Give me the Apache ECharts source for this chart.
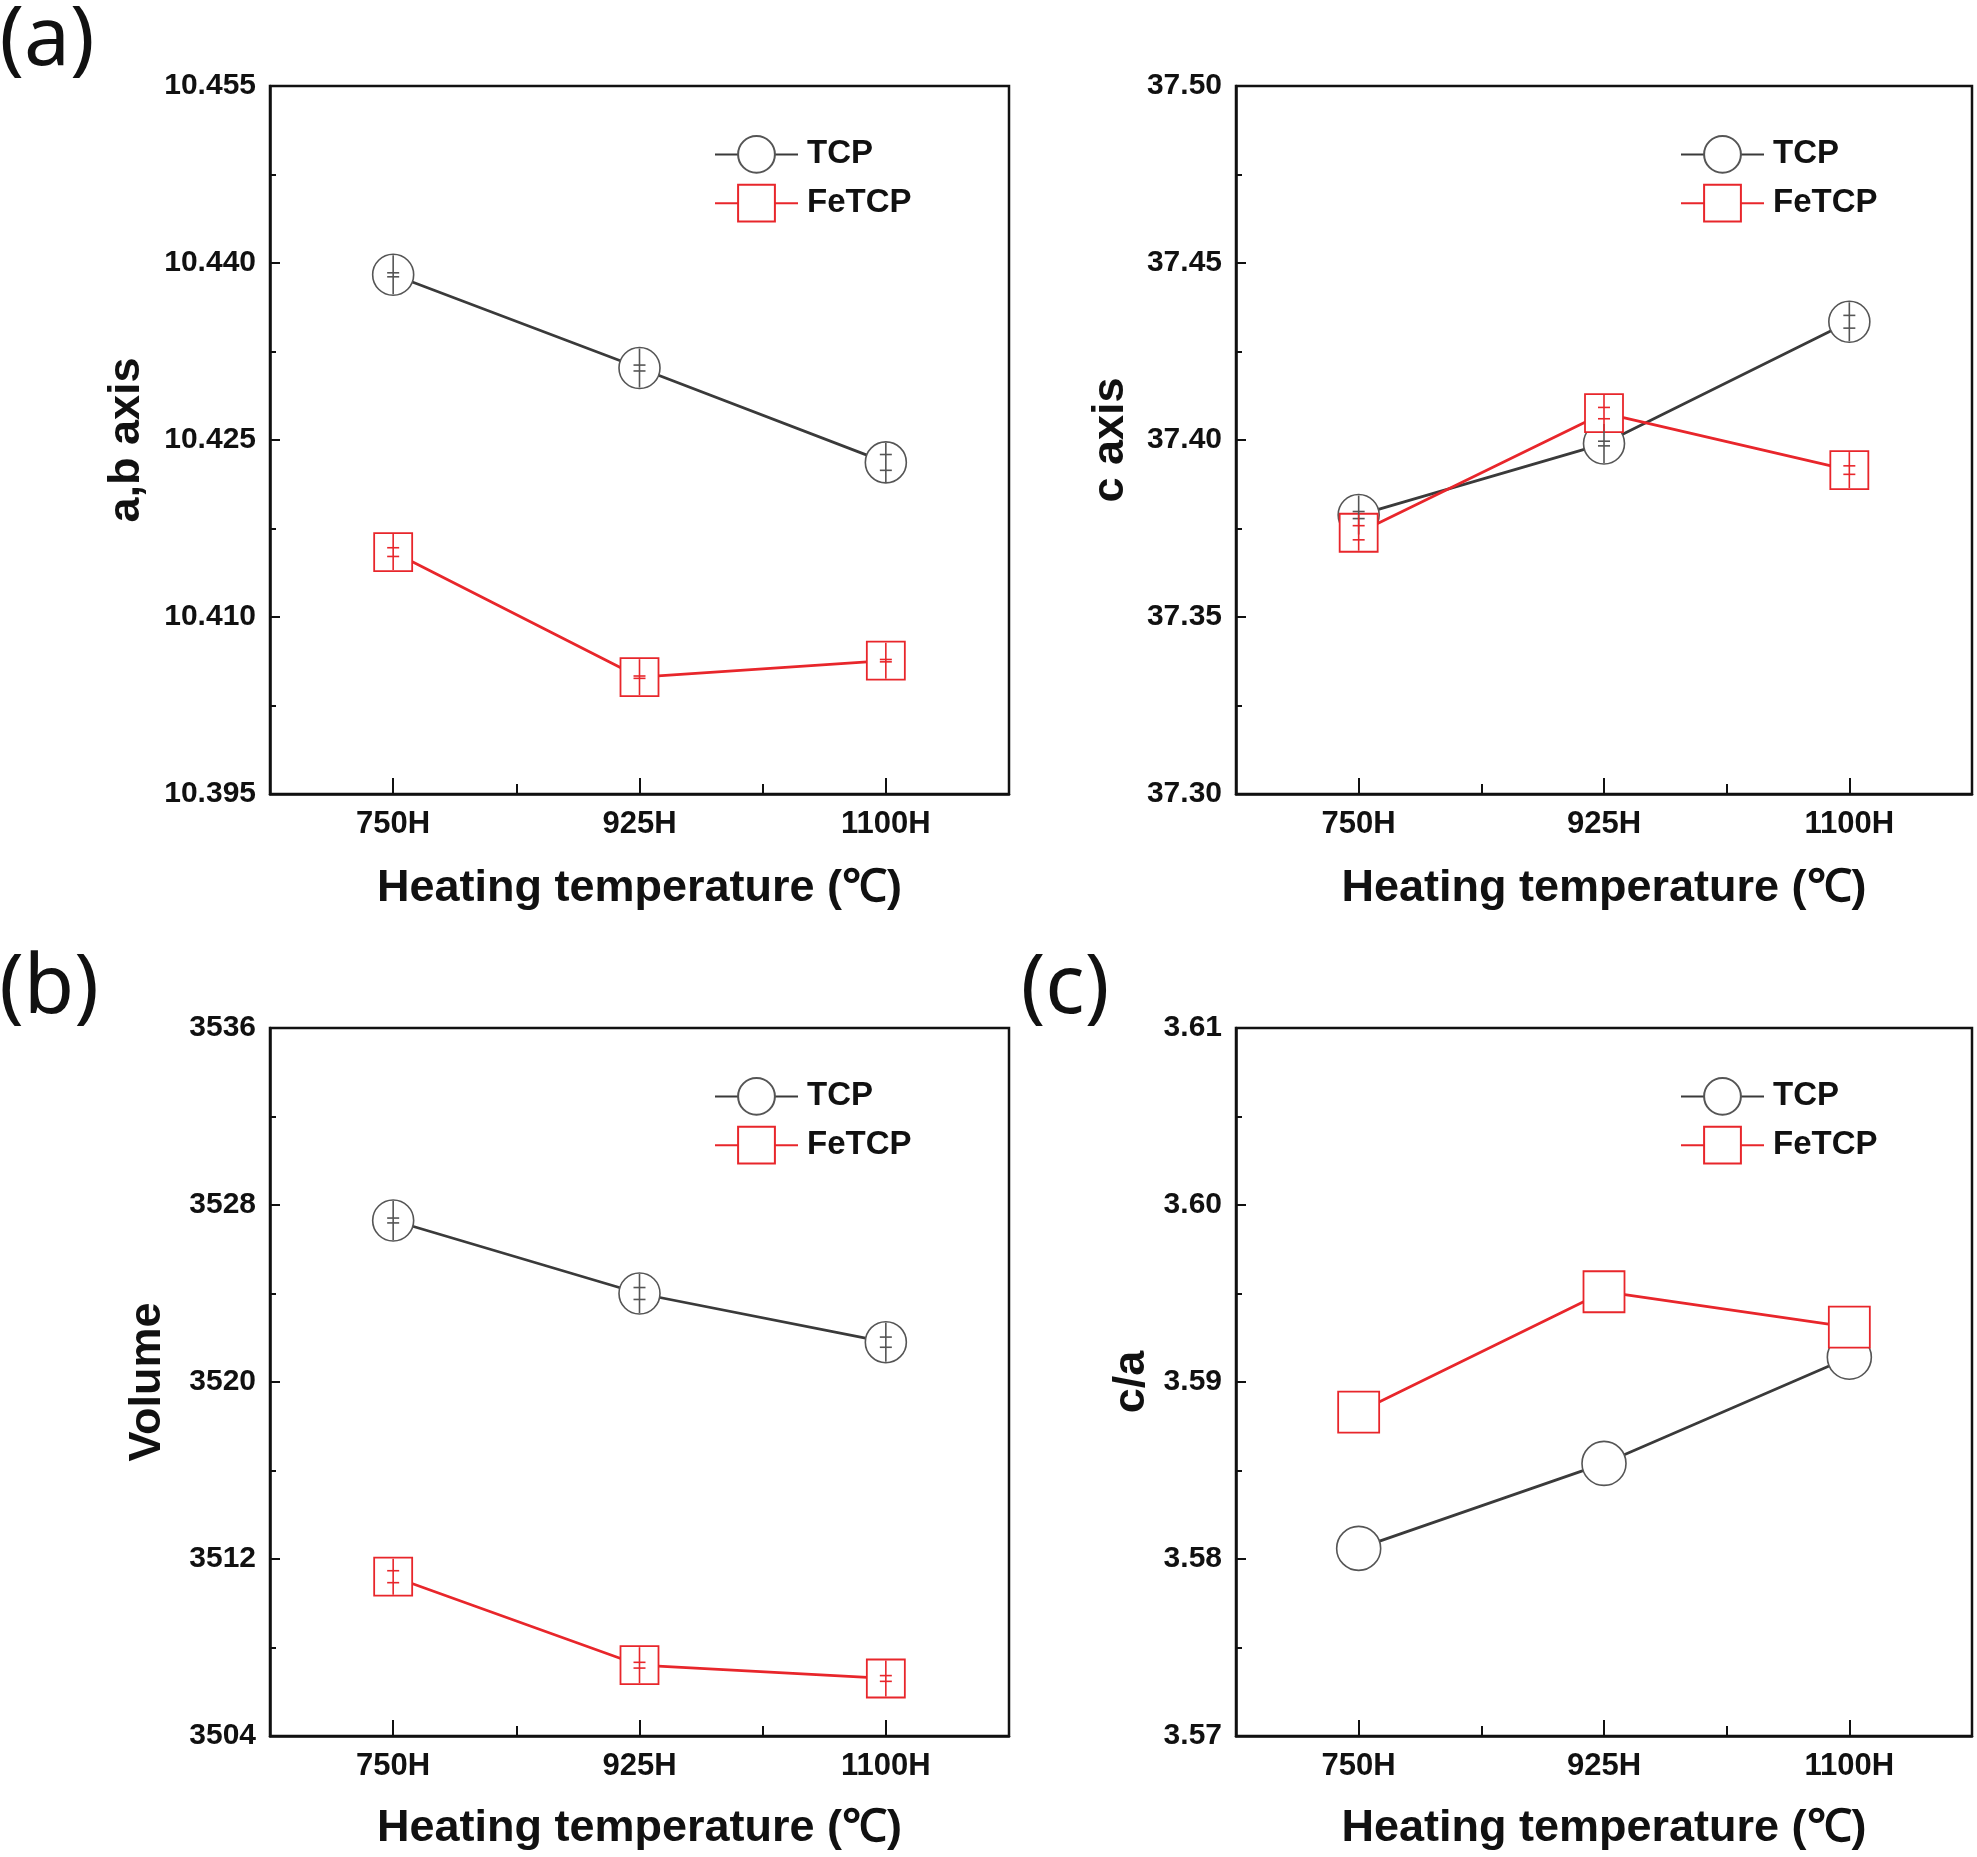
<!DOCTYPE html>
<html><head><meta charset="utf-8">
<script src="https://cdn.jsdelivr.net/npm/echarts@6/dist/echarts.min.js"></script>
<style>html,body{margin:0;padding:0;background:#fff}#c{width:1977px;height:1857px}</style>
</head><body><div id="c"></div>
<script>
// ---------- data ----------
const categories = ['750H', '925H', '1100H'];
const seriesNames = ['TCP', 'FeTCP'];
const xAxisTitle = 'Heating temperature (\u2103)';

// (a) a,b axis
const abTicks = [10.395, 10.410, 10.425, 10.440, 10.455];
const abTCP = [10.4390, 10.4311, 10.4231];
const abTCPErr = [0.00017, 0.00025, 0.00067];
const abFe = [10.4155, 10.4049, 10.4063];
const abFeErr = [0.00037, 0.0001, 0.0001];

// c axis
const cTicks = [37.30, 37.35, 37.40, 37.45, 37.50];
const cTCP = [37.3788, 37.3990, 37.4334];
const cTCPErr = [0.0010, 0.00066, 0.0018];
const cFe = [37.3738, 37.4076, 37.3915];
const cFeErr = [0.0020, 0.0016, 0.0012];

// (b) Volume
const volTicks = [3504, 3512, 3520, 3528, 3536];
const volTCP = [3527.3, 3524.0, 3521.8];
const volTCPErr = [0.11, 0.27, 0.23];
const volFe = [3511.2, 3507.2, 3506.6];
const volFeErr = [0.27, 0.13, 0.13];

// (c) c/a
const caTicks = [3.57, 3.58, 3.59, 3.60, 3.61];
const caTCP = [3.5806, 3.5854, 3.5914];
const caFe = [3.5883, 3.5951, 3.5931];

// ---------- layout / style ----------
const INK = '#111';
const GRAY = '#3a3a3a';
const GRAY_M = '#555';
const RED = '#e8262b';
const tickFont = '"Liberation Sans", Arial, sans-serif';
const nameFont = '"Liberation Sans", Arial, sans-serif';

const panels = [
  { left: 270, top: 86, width: 739, height: 708, ticks: abTicks, dec: 3, name: 'a,b axis', nameGap: 121, xGap: 72,
    tcp: abTCP, tcpErr: abTCPErr, fe: abFe, feErr: abFeErr, cs: 41, ss: 38 },
  { left: 1236, top: 86, width: 736, height: 708, ticks: cTicks, dec: 2, name: 'c axis', nameGap: 103, xGap: 72,
    tcp: cTCP, tcpErr: cTCPErr, fe: cFe, feErr: cFeErr, cs: 41, ss: 38 },
  { left: 270, top: 1028, width: 739, height: 708, ticks: volTicks, dec: 0, name: 'Volume', nameGap: 100, xGap: 70,
    tcp: volTCP, tcpErr: volTCPErr, fe: volFe, feErr: volFeErr, cs: 41, ss: 38 },
  { left: 1236, top: 1028, width: 736, height: 708, ticks: caTicks, dec: 2, name: 'c/a', nameGap: 82, xGap: 70,
    tcp: caTCP, tcpErr: null, fe: caFe, feErr: null, cs: 44, ss: 41 }
];

function errRender(color, half) {
  return function (params, api) {
    const x = api.value(0), v = api.value(1), e = api.value(2);
    const c = api.coord([x, v]);
    const hi = api.coord([x, v + e]);
    const lo = api.coord([x, v - e]);
    const w = 6;
    const st = { stroke: color, lineWidth: 1.6 };
    return { type: 'group', children: [
      { type: 'line', shape: { x1: c[0], y1: c[1] - half, x2: c[0], y2: c[1] + half }, style: st },
      { type: 'line', shape: { x1: c[0] - w, y1: hi[1], x2: c[0] + w, y2: hi[1] }, style: st },
      { type: 'line', shape: { x1: c[0] - w, y1: lo[1], x2: c[0] + w, y2: lo[1] }, style: st }
    ]};
  };
}

const grid = [], xAxis = [], yAxis = [], series = [], legend = [];
panels.forEach((p, i) => {
  grid.push({ left: p.left, top: p.top, width: p.width, height: p.height, show: true,
    borderColor: INK, borderWidth: 2.5, backgroundColor: 'transparent' });
  xAxis.push({
    type: 'category', gridIndex: i, data: categories, boundaryGap: true, position: 'bottom',
    axisLine: { lineStyle: { color: INK, width: 2.5 } },
    axisTick: { show: true, inside: true, alignWithLabel: true, length: 16, lineStyle: { color: INK, width: 2 } },
    axisLabel: { margin: 15, fontSize: 31, fontWeight: 'bold', fontFamily: tickFont, color: INK },
    splitLine: { show: false },
    name: xAxisTitle, nameLocation: 'middle', nameGap: p.xGap,
    nameTextStyle: { fontSize: 45, fontWeight: 'bold', fontFamily: nameFont, color: INK }
  });
  xAxis.push({
    type: 'category', gridIndex: i, data: categories, boundaryGap: true, position: 'bottom',
    axisLine: { show: false },
    axisTick: { show: true, inside: true, length: 10, lineStyle: { color: INK, width: 2 } },
    axisLabel: { show: false }, splitLine: { show: false }
  });
  const interval = p.ticks[1] - p.ticks[0];
  yAxis.push({
    type: 'value', gridIndex: i, min: p.ticks[0], max: p.ticks[p.ticks.length - 1], interval: interval,
    axisLine: { show: true, lineStyle: { color: INK, width: 2.5 } },
    axisTick: { show: true, inside: true, length: 10, lineStyle: { color: INK, width: 2 } },
    minorTick: { show: true, splitNumber: 2, length: 6, lineStyle: { color: INK, width: 2 } },
    splitLine: { show: false }, minorSplitLine: { show: false },
    axisLabel: { margin: 14, fontSize: 30, fontWeight: 'bold', fontFamily: tickFont, color: INK,
      formatter: v => Number(v).toFixed(p.dec) },
    name: p.name, nameLocation: 'middle', nameRotate: 90, nameGap: p.nameGap,
    nameTextStyle: { fontSize: 45, fontWeight: 'bold', fontFamily: nameFont, color: INK }
  });
  series.push({
    name: 'TCP', type: 'line', xAxisIndex: 2 * i, yAxisIndex: i, data: p.tcp,
    symbol: 'circle', symbolSize: p.cs,
    itemStyle: { color: '#fff', borderColor: GRAY_M, borderWidth: 1.6 },
    lineStyle: { color: GRAY, width: 2.8 }, z: 2, silent: true
  });
  series.push({
    name: 'FeTCP', type: 'line', xAxisIndex: 2 * i, yAxisIndex: i, data: p.fe,
    symbol: 'rect', symbolSize: p.ss,
    itemStyle: { color: '#fff', borderColor: RED, borderWidth: 1.8 },
    lineStyle: { color: RED, width: 2.8 }, z: 3, silent: true
  });
  if (p.tcpErr) {
    series.push({
      name: 'TCP err', type: 'custom', xAxisIndex: 2 * i, yAxisIndex: i, z: 6, silent: true,
      encode: { x: 0, y: 1 },
      data: p.tcp.map((v, j) => [j, v, p.tcpErr[j]]),
      renderItem: errRender(GRAY_M, p.cs / 2 - 1)
    });
  }
  if (p.feErr) {
    series.push({
      name: 'FeTCP err', type: 'custom', xAxisIndex: 2 * i, yAxisIndex: i, z: 7, silent: true,
      encode: { x: 0, y: 1 },
      data: p.fe.map((v, j) => [j, v, p.feErr[j]]),
      renderItem: errRender(RED, p.ss / 2 - 1)
    });
  }
  legend.push({
    orient: 'vertical', left: p.left + 444, top: p.top + 49, padding: 0, itemGap: 10,
    itemWidth: 83, itemHeight: 46, data: seriesNames, selectedMode: false,
    textStyle: { fontSize: 33, fontWeight: 'bold', fontFamily: tickFont, color: INK, padding: [0, 0, 0, 4] }
  });
});

const labelFont = '82px "Noto Sans", sans-serif';
const graphic = [
  { type: 'text', x: 47, y: 42, style: { text: '(a)', font: labelFont, fill: INK, align: 'center', verticalAlign: 'middle' } },
  { type: 'text', x: 49, y: 990, style: { text: '(b)', font: labelFont, fill: INK, align: 'center', verticalAlign: 'middle' } },
  { type: 'text', x: 1065, y: 990, style: { text: '(c)', font: labelFont, fill: INK, align: 'center', verticalAlign: 'middle' } }
];

const chart = echarts.init(document.getElementById('c'), null, { renderer: 'canvas' });
chart.setOption({
  backgroundColor: '#fff', animation: false,
  grid, xAxis, yAxis, series, legend, graphic
});
</script></body></html>
